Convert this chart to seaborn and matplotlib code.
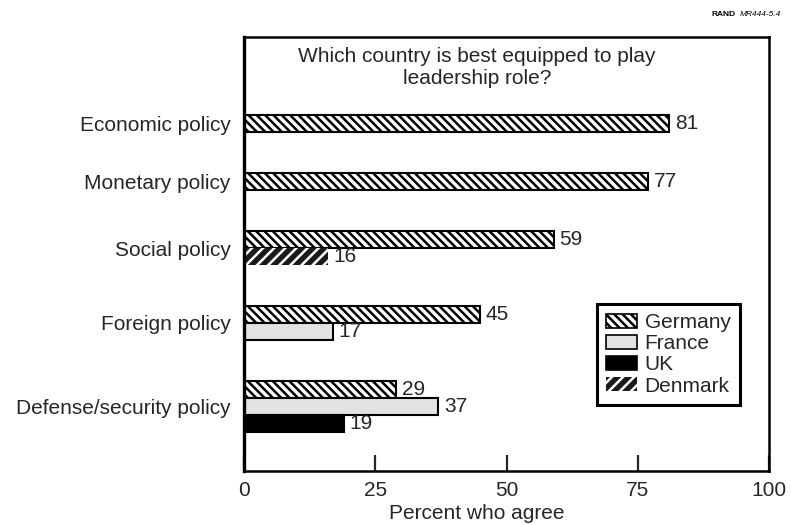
import pandas as pd
import matplotlib.pyplot as plt
import matplotlib.colors as mcolors
from matplotlib.patches import Patch
import seaborn as sns

categories = ['Economic policy', 'Monetary policy', 'Social policy',
              'Foreign policy', 'Defense/security policy']
countries = ['Germany', 'France', 'UK', 'Denmark']
germany = [81, 77, 59, 45, 29]
france = [None, None, None, 17, 37]
uk = [None, None, None, None, 19]
denmark = [None, None, 16, None, None]
series = [germany, france, uk, denmark]

title = 'Which country is best equipped to play\nleadership role?'
xlabel = 'Percent who agree'
xticks = [0, 25, 50, 75, 100]

# bar styling per country: fill, hatch, edge
palette = {'Germany': '#ffffff', 'France': '#e2e2e2', 'UK': '#000000', 'Denmark': '#1a1a1a'}
hatches = {'Germany': '\\\\\\\\', 'France': '', 'UK': '', 'Denmark': '///'}
edges = {'Germany': 'black', 'France': 'black', 'UK': 'black', 'Denmark': 'white'}

GAP = 2.4  # gap between category groups, in bar heights

# stack the bars of each category one under another
rows = []
centers = []
cursor = 0.0
for i, cat in enumerate(categories):
    start = cursor
    for country, vals in zip(countries, series):
        if vals[i] is None:
            continue
        rows.append({'category': cat, 'country': country, 'value': vals[i], 'pos': cursor + 0.5})
        cursor += 1
    centers.append((start + cursor) / 2)
    cursor += GAP
df = pd.DataFrame(rows)

sns.set_style('white')
plt.rcParams['font.family'] = ['Liberation Sans', 'DejaVu Sans']
plt.rcParams['hatch.linewidth'] = 1.8

fig = plt.figure(figsize=(7.91, 5.25), dpi=100)
ax = fig.add_axes([0.3085, 0.1029, 0.6637, 0.8266])

sns.barplot(data=df, x='value', y='pos', hue='country', hue_order=countries,
            palette=palette, orient='h', native_scale=True, dodge=False,
            width=1.0, legend=False, edgecolor='black', linewidth=1.5, ax=ax)

hex_to_country = {mcolors.to_hex(c): k for k, c in palette.items()}
for p in ax.patches:
    country = hex_to_country.get(mcolors.to_hex(p.get_facecolor()))
    if country is None:
        continue
    p.set_edgecolor(edges[country])
    p.set_hatch(hatches[country])
    if country == 'Denmark':
        p.set_linewidth(0)

for c in ax.containers:
    ax.bar_label(c, padding=4, fontsize=15)

ax.set_xlim(0, 100)
ax.set_ylim(cursor - GAP + 2.29, -4.59)
ax.set_xticks(xticks)
ax.set_xticklabels([str(t) for t in xticks], fontsize=15)
ax.set_yticks(centers)
ax.set_yticklabels(categories, fontsize=15)
ax.tick_params(axis='x', direction='in', length=11.5, width=1.6, pad=7, bottom=True)
ax.tick_params(axis='y', length=0, pad=9.5)
ax.set_xlabel(xlabel, fontsize=15)
ax.set_ylabel('')
ax.xaxis.set_label_coords(0.444, -0.075)

for side, sp in ax.spines.items():
    sp.set_visible(True)
    sp.set_color('black')
    sp.set_linewidth(2.4 if side == 'left' else 1.8)

ax.text(0.444, 0.978, title, transform=ax.transAxes, ha='center', va='top',
        fontsize=15, linespacing=1.2)

handles = [Patch(facecolor=palette[c], edgecolor=edges[c],
                 hatch=hatches[c], linewidth=0 if c == 'Denmark' else 1.2, label=c)
           for c in countries]
leg = ax.legend(handles=handles, loc='upper left', bbox_to_anchor=(0.672, 0.385),
                borderaxespad=0, fontsize=15, frameon=True, fancybox=False,
                handlelength=1.5, handleheight=0.65, handletextpad=0.35,
                labelspacing=0.1, borderpad=0.45)
leg.get_frame().set_edgecolor('black')
leg.get_frame().set_linewidth(2.2)
leg.get_frame().set_alpha(1)

# figure tag, top right: bold "RAND" then italic code
code = fig.text(0.987, 0.972, 'MR444-5.4', ha='right', va='center',
                fontsize=6, style='italic', color='black')
ax.annotate('RAND', xy=(0, 0.5), xycoords=code, xytext=(-3, 0),
            textcoords='offset points', ha='right', va='center',
            fontsize=6, fontweight='bold', color='black')

fig.savefig('out.png', dpi=100)
